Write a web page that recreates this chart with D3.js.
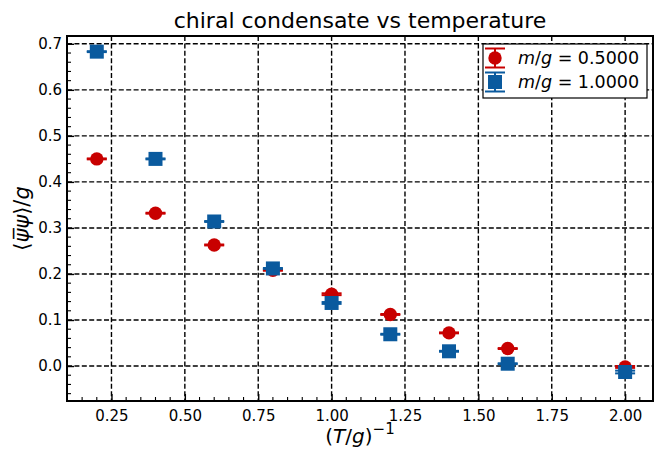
<!DOCTYPE html>
<html>
<head>
<meta charset="utf-8">
<script src="https://cdn.jsdelivr.net/npm/d3@7"></script>
<style>
body { margin: 0; background: #fff; }
text { font-family: "DejaVu Sans", sans-serif; fill: #000; }
</style>
</head>
<body>
<div id="chart"></div>
<script>
var width = 654, height = 449;
var margin = {top: 36, right: 1, bottom: 48, left: 67};

// data
var xValues = [0.2, 0.4, 0.6, 0.8, 1.0, 1.2, 1.4, 1.6, 2.0];
var condensateHalf = [0.450, 0.332, 0.263, 0.208, 0.156, 0.112, 0.072, 0.038, -0.002];
var condensateOne = [0.683, 0.450, 0.314, 0.212, 0.137, 0.069, 0.032, 0.005, -0.013];
var errHalf = [0.001, 0.001, 0.001, 0.001, 0.002, 0.001, 0.001, 0.001, 0.002];
var errOne = [0.001, 0.001, 0.001, 0.001, 0.002, 0.001, 0.001, 0.001, 0.003];
var seriesNames = ["0.5000", "1.0000"];
var xTicks = [0.25, 0.5, 0.75, 1.0, 1.25, 1.5, 1.75, 2.0];
var yTicks = [0.0, 0.1, 0.2, 0.3, 0.4, 0.5, 0.6, 0.7];

var red = "#c80000", blue = "#0a5a9e";

var svg = d3.select("#chart").append("svg").attr("width", width).attr("height", height);

var x = d3.scaleLinear().domain([0.0985, 2.095]).range([margin.left, width - margin.right]);
var y = d3.scaleLinear().domain([-0.076, 0.717]).range([height - margin.bottom, margin.top]);

var plotW = width - margin.right - margin.left;
var plotH = height - margin.bottom - margin.top;

// grid
var grid = svg.append("g").attr("class", "grid");
grid.selectAll("line.gx").data(xTicks).enter().append("line")
    .attr("x1", function (d) { return x(d) }).attr("x2", function (d) { return x(d) })
    .attr("y1", margin.top).attr("y2", height - margin.bottom)
    .attr("stroke", "#000").attr("stroke-width", 1.4).attr("stroke-dasharray", "5,2.4");
grid.selectAll("line.gy").data(yTicks).enter().append("line")
    .attr("y1", function (d) { return y(d) }).attr("y2", function (d) { return y(d) })
    .attr("x1", margin.left).attr("x2", width - margin.right)
    .attr("stroke", "#000").attr("stroke-width", 1.4).attr("stroke-dasharray", "5,2.4");

// axes with inward ticks
var xMinor = d3.range(0.1, 2.1, 0.05).filter(function (v) { return Math.abs(v / 0.25 - Math.round(v / 0.25)) > 1e-6 });
var yMinor = d3.range(-0.06, 0.72, 0.02).filter(function (v) { return Math.abs(v / 0.1 - Math.round(v / 0.1)) > 1e-6 });

var xAxis = d3.axisBottom(x).tickValues(xTicks).tickFormat(d3.format(".2f")).tickSizeInner(-7).tickSizeOuter(0).tickPadding(9);
var yAxis = d3.axisLeft(y).tickValues(yTicks).tickFormat(d3.format(".1f")).tickSizeInner(-7).tickSizeOuter(0).tickPadding(5);

var gx = svg.append("g").attr("transform", "translate(0," + (height - margin.bottom) + ")").call(xAxis);
var gy = svg.append("g").attr("transform", "translate(" + margin.left + ",0)").call(yAxis);
[gx, gy].forEach(function (g) {
    g.select(".domain").remove();
    g.selectAll(".tick line").attr("stroke", "#000").attr("stroke-width", 1.4);
    g.selectAll(".tick text").attr("font-size", 15).attr("font-family", "DejaVu Sans");
});
gx.selectAll(".tick text").attr("dy", "0.71em");

svg.append("g").selectAll("line").data(xMinor).enter().append("line")
    .attr("x1", function (d) { return x(d) }).attr("x2", function (d) { return x(d) })
    .attr("y1", height - margin.bottom).attr("y2", height - margin.bottom - 4)
    .attr("stroke", "#000").attr("stroke-width", 1.1);
svg.append("g").selectAll("line").data(yMinor).enter().append("line")
    .attr("y1", function (d) { return y(d) }).attr("y2", function (d) { return y(d) })
    .attr("x1", margin.left).attr("x2", margin.left + 4)
    .attr("stroke", "#000").attr("stroke-width", 1.1);

// frame
svg.append("rect").attr("x", margin.left).attr("y", margin.top).attr("width", plotW).attr("height", plotH)
    .attr("fill", "none").attr("stroke", "#000").attr("stroke-width", 2);

// series
function drawSeries(vals, errs, color, shape) {
    var g = svg.append("g");
    var capHalf = 10;
    xValues.forEach(function (xv, i) {
        var cx = x(xv);
        [vals[i] - errs[i], vals[i] + errs[i]].forEach(function (yy) {
            g.append("line").attr("x1", cx - capHalf).attr("x2", cx + capHalf)
                .attr("y1", y(yy)).attr("y2", y(yy))
                .attr("stroke", color).attr("stroke-width", 2);
        });
        g.append("line").attr("x1", cx).attr("x2", cx)
            .attr("y1", y(vals[i] - errs[i])).attr("y2", y(vals[i] + errs[i]))
            .attr("stroke", color).attr("stroke-width", 2);
        if (shape === "circle") {
            g.append("circle").attr("cx", cx).attr("cy", y(vals[i])).attr("r", 6.7).attr("fill", color);
        } else {
            g.append("rect").attr("x", cx - 7).attr("y", y(vals[i]) - 7).attr("width", 14).attr("height", 14).attr("fill", color);
        }
    });
}
drawSeries(condensateHalf, errHalf, red, "circle");
drawSeries(condensateOne, errOne, blue, "square");

// title
svg.append("text").attr("x", margin.left + plotW / 2).attr("y", 28).attr("text-anchor", "middle")
    .attr("font-size", 22).text("chiral condensate vs temperature");

// x label
var xl = svg.append("text").attr("x", margin.left + plotW / 2).attr("y", 443).attr("text-anchor", "middle").attr("font-size", 20);
xl.append("tspan").text("(");
xl.append("tspan").attr("font-style", "italic").text("T");
xl.append("tspan").text("/");
xl.append("tspan").attr("font-style", "italic").text("g");
xl.append("tspan").text(")");
xl.append("tspan").attr("font-size", 15).attr("dy", -9).text("\u22121");

// y label
var yl = svg.append("text").attr("transform", "translate(29," + (margin.top + plotH / 2) + ")rotate(-90)")
    .attr("text-anchor", "middle").attr("font-size", 21);
yl.append("tspan").text("\u27e8");
yl.append("tspan").attr("font-style", "italic").text("\u03c8\u0305");
yl.append("tspan").attr("font-style", "italic").text("\u03c8");
yl.append("tspan").text("\u27e9/");
yl.append("tspan").attr("font-style", "italic").text("g");

// legend
var lg = svg.append("g").attr("transform", "translate(483,44)");
lg.append("rect").attr("width", 164).attr("height", 54).attr("fill", "#fff").attr("stroke", "#000").attr("stroke-width", 1.2);
[[red, "circle"], [blue, "square"]].forEach(function (s, i) {
    var cy = 14 + i * 24, cx = 12;
    lg.append("line").attr("x1", cx).attr("x2", cx).attr("y1", cy - 9.5).attr("y2", cy + 9.5).attr("stroke", s[0]).attr("stroke-width", 2);
    [-9.5, 9.5].forEach(function (o) {
        lg.append("line").attr("x1", cx - 10).attr("x2", cx + 10).attr("y1", cy + o).attr("y2", cy + o).attr("stroke", s[0]).attr("stroke-width", 2);
    });
    if (s[1] === "circle") lg.append("circle").attr("cx", cx).attr("cy", cy).attr("r", 6.7).attr("fill", s[0]);
    else lg.append("rect").attr("x", cx - 7).attr("y", cy - 7).attr("width", 14).attr("height", 14).attr("fill", s[0]);
    var t = lg.append("text").attr("x", 35).attr("y", cy + 6).attr("font-size", 17.5);
    t.append("tspan").attr("font-style", "italic").text("m");
    t.append("tspan").text("/");
    t.append("tspan").attr("font-style", "italic").text("g");
    t.append("tspan").text(" = " + seriesNames[i]);
});
</script>
</body>
</html>
